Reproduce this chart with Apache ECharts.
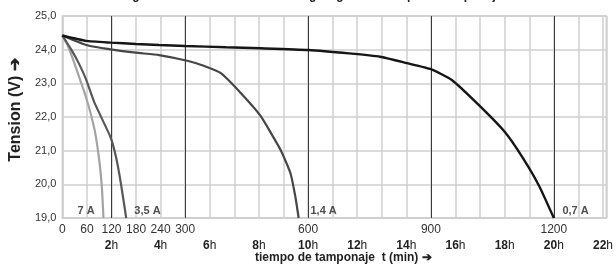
<!DOCTYPE html>
<html>
<head>
<meta charset="utf-8">
<script src="https://cdn.jsdelivr.net/npm/echarts@6/dist/echarts.min.js"></script>
<style>html,body{margin:0;padding:0;background:#fff}#c{width:616px;height:265px}</style>
</head>
<body>
<div id="c"></div>
<script>
var titleText = 'Diagrama de decremento de la carga siguiente tiempo de tamponaje';
var yName = 'Tension (V) \u2794';
var xName = 'tiempo de tamponaje  t (min) \u2794';
var minuteLabels = [0, 60, 120, 180, 240, 300, 600, 900, 1200];
var hourLabels = [2, 4, 6, 8, 10, 12, 14, 16, 18, 20, 22];
var majorLines = [120, 300, 600, 900, 1200];

var curve07 = [[0,24.42],[58,24.26],[118,24.21],[180,24.17],[236,24.14],[300,24.11],[400,24.07],[484,24.04],[600,23.99],[700,23.89],[776,23.79],[841,23.6],[900,23.42],[951,23.10],[1019,22.33],[1080,21.56],[1125,20.77],[1165,19.93],[1200,19.0]];
var curve14 = [[0,24.42],[58,24.14],[118,24.01],[179,23.91],[236,23.84],[305,23.67],[345,23.52],[387,23.30],[435,22.72],[484,22.03],[533,21.02],[557,20.33],[569,19.63],[577,19.0]];
var curve35 = [[0,24.42],[22,24.0],[40,23.6],[58,23.12],[79,22.41],[117,21.42],[131,20.82],[143,20.03],[156,19.0]];
var curve7 = [[0,24.42],[14,24.1],[27,23.68],[58,22.58],[79,21.61],[91,20.63],[97,19.83],[100.5,19.0]];

var currentNames = ['7 A', '3,5 A', '1,4 A', '0,7 A'];
var currentLabelX = [58, 208, 638, 1253];
var currentLabelY = [19.21, 19.21, 19.21, 19.21];

var chart = echarts.init(document.getElementById('c'));
var font = 'Liberation Sans, Arial, sans-serif';
function lineSeries(data, color, width) {
  return {type: 'line', data: data, showSymbol: false, symbol: 'none', smooth: 0.15,
    lineStyle: {color: color, width: width}, z: 5, silent: true};
}
chart.setOption({
  animation: false,
  title: {text: titleText, left: 'center', top: -10, padding: 0,
    textStyle: {fontFamily: font, fontSize: 12, fontWeight: 'bold', color: '#222'}},
  grid: {left: 61, right: 9, top: 16, bottom: 47, show: true, borderColor: '#cfcfcf', borderWidth: 1.5},
  xAxis: [{
    type: 'value', min: 0, max: 1328, interval: 60,
    axisLine: {show: true, lineStyle: {color: '#cfcfcf', width: 1.5}},
    axisTick: {show: false},
    splitLine: {show: true, lineStyle: {color: '#cfcfcf', width: 1.5}},
    axisLabel: {show: true, margin: 6, color: '#333', fontFamily: font, fontSize: 12,
      showMaxLabel: false,
      formatter: function (v) { return minuteLabels.indexOf(v) >= 0 ? String(v) : ''; }}
  }, {
    type: 'value', min: 0, max: 1328, interval: 60, position: 'bottom', offset: 16,
    axisLine: {show: false}, axisTick: {show: false}, splitLine: {show: false},
    axisLabel: {show: true, margin: 6, showMaxLabel: false,
      formatter: function (v) {
        var h = v / 60;
        return (v > 0 && hourLabels.indexOf(h) >= 0) ? '{b|' + h + '}{n|h}' : '';
      },
      rich: {b: {fontFamily: font, fontSize: 12, fontWeight: 'bold', color: '#222'},
             n: {fontFamily: font, fontSize: 12, color: '#222'}}}
  }],
  yAxis: {
    type: 'value', min: 19, max: 25, interval: 1,
    name: yName, nameLocation: 'middle', nameRotate: 90, nameGap: 32,
    nameTextStyle: {fontFamily: font, fontSize: 16, fontWeight: 'bold', color: '#222', padding: [0, 0, 0, 14]},
    axisLine: {show: true, lineStyle: {color: '#cfcfcf', width: 1.5}},
    axisTick: {show: false},
    splitLine: {show: true, lineStyle: {color: '#cfcfcf', width: 1.5}},
    axisLabel: {margin: 6, color: '#333', fontFamily: font, fontSize: 11,
      formatter: function (v) { return v.toFixed(1).replace('.', ','); }}
  },
  graphic: [{type: 'text', left: 255, top: 252,
    style: {text: xName, fontFamily: font, fontSize: 12, fontWeight: 'bold', fill: '#222'}}],
  series: [
    {type: 'line', data: [], silent: true,
      markLine: {symbol: 'none', silent: true, label: {show: false},
        lineStyle: {color: '#3a3a3a', width: 1, type: 'solid'},
        data: majorLines.map(function (v) { return {xAxis: v}; })}},
    lineSeries(curve7, '#a3a3a3', 2.2),
    lineSeries(curve35, '#585858', 2.2),
    lineSeries(curve14, '#464646', 2.2),
    lineSeries(curve07, '#161616', 2.4),
    {type: 'scatter', symbolSize: 0, silent: true, z: 6,
      data: currentNames.map(function (n, i) { return {value: [currentLabelX[i], currentLabelY[i]], name: n}; }),
      label: {show: true, position: 'inside', formatter: '{b}', fontFamily: font, fontSize: 11,
        fontWeight: 'bold', color: '#222'}}
  ]
});
</script>
</body>
</html>
